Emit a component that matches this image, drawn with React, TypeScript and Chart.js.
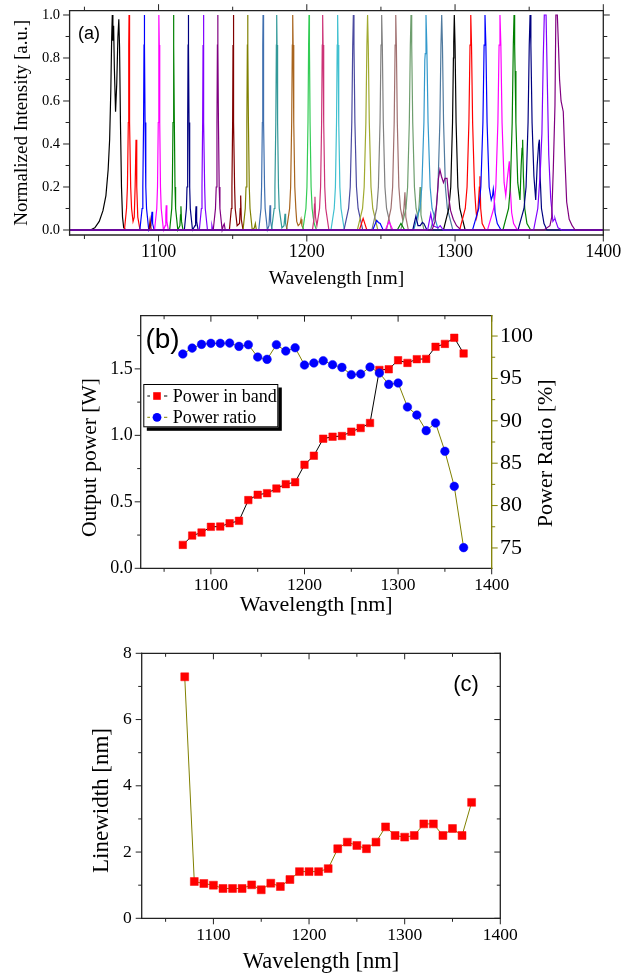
import React, { useEffect, useRef } from 'react';
import { Chart, registerables } from 'chart.js';
Chart.register(...registerables);

const SERIF = '"Liberation Serif", "Times New Roman", serif';
const SANS = '"Liberation Sans", Arial, sans-serif';

// ---------------- Panel (a): normalized spectra [wavelength nm, intensity] ----------------
const S1070 = [[1040,0],[1054,0],[1057,0.01],[1060,0.04],[1062.5,0.09],[1064.5,0.16],[1066,0.28],[1067,0.42],[1067.8,0.65],[1068.4,0.9],[1068.8,1.0],[1069.2,0.88],[1069.7,0.95],[1070.2,0.75],[1071,0.55],[1071.8,0.68],[1072.6,0.9],[1073.2,0.98],[1073.7,0.85],[1074.3,0.5],[1075,0.2],[1075.7,0.06],[1076.5,0.01],[1078,0],[1400,0]];
const S1080 = [[1040,0],[1077,0],[1078.4,0.1],[1079,0.2],[1079.6,0.5],[1079.9,0.86],[1080.1,1],[1080.3,0.86],[1080.6,0.5],[1081.2,0.2],[1081.8,0.1],[1082.8,0.04],[1083.6,0.06],[1084.2,0.2],[1084.8,0.42],[1085.3,0.2],[1086,0.06],[1087.5,0],[1400,0]];
const S1090 = [[1040,0],[1087.4,0],[1088.9,0.1],[1089.4,0.2],[1089.9,0.5],[1090.2,0.86],[1090.4,1],[1090.6,0.86],[1090.9,0.5],[1091.4,0.2],[1091.9,0.1],[1093.4,0],[1094.8,0.02],[1095.3,0.06],[1095.6,0.085],[1096,0.03],[1097,0],[1400,0]];
const S1100 = [[1040,0],[1097.3,0],[1098.8,0.1],[1099.3,0.2],[1099.8,0.5],[1100.1,0.86],[1100.3,1],[1100.5,0.86],[1100.8,0.5],[1101.3,0.2],[1101.8,0.1],[1103.3,0],[1104.5,0.02],[1104.9,0.07],[1105.2,0.115],[1105.6,0.04],[1106.6,0],[1400,0]];
const S1110 = [[1040,0],[1107.5,0],[1108.9,0.1],[1109.3,0.2],[1109.75,0.5],[1110.02,0.86],[1110.2,1],[1110.38,0.86],[1110.65,0.5],[1111.1,0.2],[1111.5,0.1],[1113,0],[1114.4,0.02],[1114.8,0.07],[1115.1,0.11],[1115.5,0.04],[1116.5,0],[1400,0]];
const S1120 = [[1040,0],[1117.4,0],[1118.8,0.1],[1119.2,0.2],[1119.65,0.5],[1119.92,0.86],[1120.1,1],[1120.28,0.86],[1120.55,0.5],[1121,0.2],[1121.4,0.1],[1122.9,0],[1124.6,0.02],[1125,0.07],[1125.3,0.11],[1125.7,0.04],[1126.7,0],[1400,0]];
const S1130 = [[1040,0],[1127.5,0],[1128.9,0.1],[1129.3,0.2],[1129.75,0.5],[1130.02,0.86],[1130.2,1],[1130.38,0.86],[1130.65,0.5],[1131.1,0.2],[1131.5,0.1],[1133,0],[1135.4,0],[1136,0.02],[1136.6,0],[1400,0]];
const S1140 = [[1040,0],[1136.9,0],[1138.4,0.1],[1138.9,0.2],[1139.4,0.5],[1139.7,0.86],[1139.9,1],[1140.1,0.86],[1140.4,0.5],[1140.9,0.2],[1141.4,0.1],[1142.9,0],[1143.7,0.02],[1144.3,0.028],[1145,0],[1400,0]];
const S1150 = [[1040,0],[1093.6,0],[1094.3,0.045],[1095,0],[1147.8,0],[1149.1,0.1],[1149.5,0.2],[1149.97,0.5],[1150.23,0.86],[1150.4,1],[1150.57,0.86],[1150.83,0.5],[1151.3,0.2],[1151.7,0.1],[1153,0.02],[1154.6,0.03],[1155.1,0.1],[1155.4,0.16],[1155.8,0.05],[1157,0],[1400,0]];
const S1160 = [[1040,0],[1157,0],[1158.5,0.1],[1159,0.2],[1159.57,0.5],[1159.9,0.86],[1160.1,1],[1160.3,0.86],[1160.63,0.5],[1161.2,0.2],[1161.7,0.1],[1163.2,0],[1164.6,0.01],[1165.3,0.03],[1166,0],[1400,0]];
const S1170 = [[1040,0],[1167.6,0],[1169.1,0.1],[1169.5,0.2],[1170.02,0.5],[1170.3,0.86],[1170.5,1],[1170.7,0.86],[1170.98,0.5],[1171.5,0.2],[1171.9,0.1],[1173.4,0],[1174.5,0.02],[1174.9,0.07],[1175.2,0.115],[1175.6,0.04],[1176.6,0],[1400,0]];
const S1180 = [[1040,0],[1176.2,0],[1178,0.1],[1178.5,0.2],[1179.1,0.5],[1179.47,0.86],[1179.7,1],[1179.93,0.86],[1180.3,0.5],[1180.9,0.2],[1181.4,0.1],[1183.2,0.01],[1184.6,0.02],[1185,0.05],[1185.3,0.075],[1185.7,0.03],[1186.8,0],[1400,0]];
const S1190 = [[1040,0],[1186.3,0],[1188.4,0.1],[1189.1,0.2],[1189.8,0.5],[1190.22,0.86],[1190.5,1],[1190.78,0.86],[1191.2,0.5],[1191.9,0.2],[1192.6,0.1],[1193.2,0.04],[1194.2,0.02],[1195.5,0.03],[1196.1,0.05],[1196.7,0.02],[1198,0],[1400,0]];
const S1200 = [[1040,0],[1197.3,0],[1199.4,0.1],[1200.1,0.2],[1200.8,0.5],[1201.22,0.86],[1201.5,1],[1201.78,0.86],[1202.2,0.5],[1202.9,0.2],[1203.6,0.1],[1204.3,0.06],[1205,0.03],[1206.5,0],[1400,0]];
const S1210 = [[1040,0],[1203.8,0],[1204.8,0.05],[1205.2,0.12],[1205.5,0.155],[1205.9,0.06],[1206.8,0.02],[1208.6,0.1],[1209.3,0.2],[1210,0.5],[1210.42,0.86],[1210.7,1],[1210.98,0.86],[1211.4,0.5],[1212.1,0.2],[1212.8,0.1],[1214.9,0],[1400,0]];
const S1220 = [[1040,0],[1216.3,0],[1218.5,0.1],[1219.3,0.2],[1220.05,0.5],[1220.5,0.86],[1220.8,1],[1221.1,0.86],[1221.55,0.5],[1222.3,0.2],[1223.1,0.1],[1225.3,0],[1400,0]];
const S1230 = [[1040,0],[1225.1,0],[1228.2,0.1],[1229.3,0.2],[1230.35,0.5],[1230.98,0.86],[1231.4,1],[1231.82,0.86],[1232.45,0.5],[1233.5,0.2],[1234.6,0.1],[1237.7,0],[1400,0]];
const S1240 = [[1040,0],[1234.1,0],[1237.6,0.1],[1238.7,0.2],[1239.85,0.5],[1240.54,0.86],[1241,1],[1241.46,0.86],[1242.15,0.5],[1243.3,0.2],[1244.5,0.1],[1247.9,0],[1400,0]];
const S1250 = [[1040,0],[1243.9,0],[1247.2,0.1],[1248.3,0.2],[1249.4,0.5],[1250.06,0.86],[1250.5,1],[1250.94,0.86],[1251.6,0.5],[1252.7,0.2],[1253.8,0.1],[1257.1,0],[1400,0]];
const S1260 = [[1040,0],[1253.7,0],[1256.8,0.1],[1257.9,0.2],[1258.95,0.5],[1259.58,0.86],[1260,1],[1260.42,0.86],[1261.05,0.5],[1262.1,0.2],[1263.2,0.1],[1264.6,0.05],[1265.5,0.1],[1266.2,0.175],[1266.8,0.06],[1268.5,0],[1400,0]];
const S1270 = [[1040,0],[1263.4,0],[1266.9,0.1],[1268,0.2],[1269.15,0.5],[1269.84,0.86],[1270.3,1],[1270.76,0.86],[1271.45,0.5],[1272.6,0.2],[1273.7,0.1],[1275,0.06],[1275.8,0.12],[1276.4,0.2],[1277,0.07],[1279,0],[1400,0]];
const S1280 = [[1040,0],[1272.1,0],[1276.3,0.1],[1277.6,0.2],[1279,0.5],[1279.6,0.79],[1279.9,0.82],[1280.4,1],[1280.95,0.86],[1281.8,0.5],[1283.2,0.2],[1284.5,0.1],[1288.7,0],[1400,0]];
const S1290 = [[1040,0],[1283.5,0],[1287.3,0.1],[1288.5,0.2],[1289.75,0.5],[1290.5,0.86],[1291,1],[1291.5,0.86],[1292.25,0.5],[1293.5,0.2],[1294.8,0.1],[1298.5,0],[1400,0]];
const S1300 = [[1040,0],[1292.2,0],[1295.8,0.1],[1297.1,0.2],[1298.3,0.5],[1298.9,0.8],[1299.05,0.88],[1299.2,0.87],[1299.5,1],[1300,0.86],[1300.7,0.5],[1301.9,0.2],[1303.2,0.1],[1306.8,0],[1400,0]];
const S1310 = [[1040,0],[1235.5,0],[1238,0.054],[1240.5,0],[1303.1,0],[1306.9,0.1],[1308.1,0.2],[1309.35,0.5],[1310.1,0.86],[1310.6,1],[1311.1,0.86],[1311.85,0.5],[1313.1,0.2],[1314,0.1],[1314.6,0.06],[1315.5,0.1],[1316.4,0.2],[1316.8,0.25],[1317.3,0.1],[1318.3,0.03],[1320.5,0],[1400,0]];
const S1320 = [[1040,0],[1244.5,0],[1247.1,0.045],[1248.3,0.035],[1249.5,0.03],[1251.5,0],[1311.8,0],[1316,0.1],[1317.4,0.2],[1318.8,0.5],[1319.6,0.86],[1320.2,1],[1320.8,0.86],[1321.6,0.5],[1323,0.2],[1324.4,0.14],[1325.3,0.16],[1325.8,0.19],[1326.3,0.16],[1327,0.08],[1328.5,0.03],[1331,0],[1400,0]];
const S1330 = [[1040,0],[1253,0],[1255.5,0.04],[1258,0],[1321.9,0],[1326.1,0.1],[1327.5,0.2],[1328.9,0.5],[1329.7,0.86],[1330.3,1],[1330.9,0.86],[1331.7,0.5],[1333.1,0.22],[1334.2,0.16],[1335.3,0.24],[1336.6,0.32],[1337.2,0.2],[1338.2,0.08],[1339.5,0.03],[1342,0],[1400,0]];
const S1340 = [[1040,0],[1261,0],[1263.5,0.03],[1266,0],[1332.3,0],[1336.1,0.1],[1337.3,0.2],[1338.55,0.5],[1339.3,0.86],[1339.8,1],[1340.2,0.86],[1340.5,0.74],[1341.05,0.5],[1342.3,0.22],[1343.8,0.14],[1344.6,0.3],[1345.2,0.38],[1345.6,0.42],[1346.1,0.25],[1347,0.1],[1348.5,0.03],[1351,0],[1400,0]];
const S1350 = [[1040,0],[1271.5,0],[1273.6,0.065],[1275,0.02],[1276.5,0.02],[1278,0.035],[1279,0.03],[1281,0],[1342.5,0],[1346.5,0.1],[1347.9,0.2],[1349.25,0.5],[1350.05,0.86],[1350.6,1],[1351.15,0.86],[1351.95,0.5],[1353.2,0.25],[1354.4,0.14],[1355.4,0.3],[1356.4,0.4],[1356.9,0.42],[1357.4,0.25],[1358.3,0.1],[1360,0.03],[1362,0],[1400,0]];
const S1360 = [[1040,0],[1281.5,0],[1283.6,0.075],[1285,0.02],[1288.5,0.01],[1290,0.02],[1292,0],[1353,0],[1355.8,0.1],[1357,0.22],[1357.6,0.29],[1358.6,0.45],[1359.5,0.8],[1360.2,1],[1361.4,1],[1362.2,0.7],[1363.2,0.35],[1364.5,0.15],[1366,0.04],[1367,0.05],[1367.4,0.054],[1368,0.04],[1369.5,0.01],[1372,0],[1400,0]];
const S1370 = [[1040,0],[1284.5,0],[1286.5,0.04],[1287.6,0.12],[1288.8,0.24],[1289.8,0.28],[1290.8,0.25],[1292.2,0.22],[1293.2,0.24],[1294.6,0.24],[1295.6,0.16],[1297,0.09],[1298.8,0.05],[1301,0.02],[1304,0],[1360,0],[1364,0.02],[1365.2,0.06],[1366.3,0.29],[1367.4,0.58],[1368,1],[1369,1],[1369.8,0.85],[1370.5,0.7],[1371.5,0.6],[1373,0.55],[1374,0.35],[1375.3,0.13],[1377,0.05],[1379,0.02],[1381,0],[1400,0]];

const SPECTRA = [S1070,S1080,S1090,S1100,S1110,S1120,S1130,S1140,S1150,S1160,S1170,S1180,S1190,S1200,S1210,S1220,S1230,S1240,S1250,S1260,S1270,S1280,S1290,S1300,S1310,S1320,S1330,S1340,S1350,S1360,S1370];
const SPECTRA_LABELS = ['1070','1080','1090','1100','1110','1120','1130','1140','1150','1160','1170','1180','1190','1200','1210','1220','1230','1240','1250','1260','1270','1280','1290','1300','1310','1320','1330','1340','1350','1360','1370'];
const SPECTRA_COLORS = ['#000000','#FF0000','#0000FF','#FF00FF','#008000','#000080','#8000FF','#800080','#800000','#808000','#3F6FAF','#339999','#A8641E','#33CC55','#CC3377','#40C0D0','#4A4AA0','#A0AA30','#808080','#A07070','#6E9E6E','#3399CC','#507A9E','#000000','#FF0000','#0000FF','#FF00FF','#008000','#000080','#8000FF','#800080'];

// ---------------- Panels (b) and (c) ----------------
const WAVELENGTH = [1070,1080,1090,1100,1110,1120,1130,1140,1150,1160,1170,1180,1190,1200,1210,1220,1230,1240,1250,1260,1270,1280,1290,1300,1310,1320,1330,1340,1350,1360,1370];
const POWER_IN_BAND = [0.176,0.246,0.269,0.312,0.314,0.339,0.357,0.513,0.553,0.565,0.600,0.633,0.648,0.779,0.847,0.975,0.990,0.995,1.028,1.055,1.093,1.492,1.497,1.565,1.545,1.573,1.575,1.666,1.688,1.734,1.616];
const POWER_RATIO = [97.88,98.58,99.02,99.14,99.14,99.17,98.78,98.98,97.52,97.25,98.98,98.23,98.62,96.58,96.82,97.09,96.62,96.30,95.44,95.52,96.34,95.64,94.30,94.46,91.63,90.68,88.84,89.74,86.40,82.27,75.04];
const LINEWIDTH = [7.29,1.11,1.05,1.0,0.90,0.90,0.90,1.01,0.86,1.06,0.96,1.17,1.41,1.41,1.41,1.50,2.10,2.30,2.20,2.10,2.30,2.76,2.50,2.45,2.50,2.85,2.85,2.50,2.71,2.50,3.50];

// ---------------- Tick values ----------------
const X_MAJOR = [1100,1200,1300,1400];
const X_MINOR = [1050,1150,1250,1350];
const A_Y_MAJOR = [0,0.2,0.4,0.6,0.8,1.0];
const A_Y_MINOR = [0.1,0.3,0.5,0.7,0.9];
const B_YL_MAJOR = [0,0.5,1.0,1.5];
const B_YL_MINOR = [0.25,0.75,1.25,1.75];
const B_YR_MAJOR = [75,80,85,90,95,100];
const B_YR_MINOR = [77.5,82.5,87.5,92.5,97.5];
const C_Y_MAJOR = [0,2,4,6,8];
const C_Y_MINOR = [1,3,5,7];

const toXY = (xs: number[], ys: number[]) => xs.map((x, i) => ({ x, y: ys[i] }));

// ---------------- Plugins ----------------
const framePlugin = {
  id: 'frame',
  afterDraw(chart: any, _a: any, o: any) {
    if (!o || !o.sides) return;
    const { ctx, chartArea: a } = chart;
    ctx.save();
    ctx.lineCap = 'square';
    for (const s of o.sides) {
      const sc = chart.scales[s.scale];
      ctx.strokeStyle = s.color || '#222';
      ctx.lineWidth = o.lineWidth || 1.3;
      ctx.beginPath();
      if (s.side === 'bottom') { ctx.moveTo(a.left, a.bottom); ctx.lineTo(a.right, a.bottom); }
      if (s.side === 'top') { ctx.moveTo(a.left, a.top); ctx.lineTo(a.right, a.top); }
      if (s.side === 'left') { ctx.moveTo(a.left, a.top); ctx.lineTo(a.left, a.bottom); }
      if (s.side === 'right') { ctx.moveTo(a.right, a.top); ctx.lineTo(a.right, a.bottom); }
      ctx.stroke();
      ctx.lineWidth = 1;
      ctx.lineCap = 'butt';
      const tick = (v: number, len: number) => {
        const p = sc.getPixelForValue(v);
        const d = s.dir * len;
        ctx.beginPath();
        if (s.side === 'bottom') { ctx.moveTo(p, a.bottom); ctx.lineTo(p, a.bottom + d); }
        if (s.side === 'top') { ctx.moveTo(p, a.top); ctx.lineTo(p, a.top - d); }
        if (s.side === 'left') { ctx.moveTo(a.left, p); ctx.lineTo(a.left - d, p); }
        if (s.side === 'right') { ctx.moveTo(a.right, p); ctx.lineTo(a.right + d, p); }
        ctx.stroke();
      };
      s.major.forEach((v: number) => tick(v, o.majorLen || 6));
      s.minor.forEach((v: number) => tick(v, o.minorLen || 3.5));
      ctx.lineCap = 'square';
    }
    ctx.restore();
  },
};

const textPlugin = {
  id: 'texts',
  afterDraw(chart: any, _a: any, o: any) {
    if (!o || !o.items) return;
    const { ctx } = chart;
    for (const t of o.items) {
      ctx.save();
      ctx.font = t.font;
      ctx.fillStyle = t.color || '#000';
      ctx.textAlign = t.align || 'center';
      ctx.textBaseline = 'middle';
      ctx.translate(t.x, t.y);
      if (t.rotate) ctx.rotate(t.rotate);
      ctx.fillText(t.text, 0, 0);
      ctx.restore();
    }
  },
};

const boxLegendPlugin = {
  id: 'boxLegend',
  afterDraw(chart: any, _a: any, o: any) {
    if (!o || !o.display) return;
    const { ctx, chartArea: a } = chart;
    const x = a.left + o.dx, y = a.top + o.dy, w = o.width, h = o.height;
    ctx.save();
    ctx.fillStyle = '#000';
    ctx.fillRect(x + o.shadow, y + o.shadow, w, h);
    ctx.fillStyle = '#fff';
    ctx.fillRect(x, y, w, h);
    ctx.strokeStyle = '#000';
    ctx.lineWidth = 1;
    ctx.strokeRect(x + 0.5, y + 0.5, w - 1, h - 1);
    chart.data.datasets.forEach((ds: any, i: number) => {
      const cy = y + o.rowTop + i * o.rowGap;
      const mx = x + o.markerX;
      ctx.strokeStyle = ds.borderColor;
      ctx.lineWidth = 1;
      ctx.beginPath();
      ctx.moveTo(x + 4, cy); ctx.lineTo(mx - 7, cy);
      ctx.moveTo(mx + 7, cy); ctx.lineTo(x + 24, cy);
      ctx.stroke();
      ctx.fillStyle = ds.pointBackgroundColor;
      if (ds.pointStyle === 'rect') {
        ctx.fillRect(mx - 3.8, cy - 3.8, 7.6, 7.6);
      } else {
        ctx.beginPath(); ctx.arc(mx, cy, 4.4, 0, Math.PI * 2); ctx.fill();
      }
      ctx.fillStyle = '#000';
      ctx.font = o.font;
      ctx.textAlign = 'left';
      ctx.textBaseline = 'middle';
      ctx.fillText(ds.label, x + o.textX, cy + 1);
    });
    ctx.restore();
  },
};

Chart.register(framePlugin as any, textPlugin as any, boxLegendPlugin as any);

const fixX = (h: number) => (s: any) => { s.height = h; s.paddingLeft = 0; s.paddingRight = 0; };
const fixY = (w: number) => (s: any) => { s.width = w; s.paddingTop = 0; s.paddingBottom = 0; };
const setTicks = (vals: number[]) => (s: any) => { s.ticks = vals.map((v) => ({ value: v })); };
const noGrid = { display: false, drawTicks: false };

function configA(): any {
  return {
    type: 'line',
    data: {
      datasets: SPECTRA.map((arr, i) => ({
        label: SPECTRA_LABELS[i],
        data: arr.map(([x, y]) => ({ x, y })),
        borderColor: SPECTRA_COLORS[i],
        borderWidth: 1.2,
        pointRadius: 0,
        tension: 0,
        order: -i,
      })),
    },
    options: {
      responsive: false,
      devicePixelRatio: 1,
      animation: false,
      events: [],
      layout: { padding: { top: 10.7, left: 0, right: 30.7, bottom: 0 } },
      scales: {
        x: {
          type: 'linear', min: 1040, max: 1400,
          afterFit: fixX(57), afterBuildTicks: setTicks(X_MAJOR),
          grid: noGrid, border: { display: false },
          ticks: { padding: 6.9, color: '#000', font: { family: SERIF, size: 18 }, callback: (v: number) => String(v), autoSkip: false, maxRotation: 0 },
          title: { display: true, text: 'Wavelength [nm]', color: '#000', font: { family: SERIF, size: 19.5 }, padding: { top: 0, bottom: 1.3 } },
        },
        y: {
          type: 'linear', min: -0.0233, max: 1.02,
          afterFit: fixY(69.6), afterBuildTicks: setTicks(A_Y_MAJOR),
          grid: noGrid, border: { display: false },
          ticks: { padding: 9.6, color: '#000', font: { family: SERIF, size: 14.5 }, callback: (v: number) => v.toFixed(1), autoSkip: false },
          title: { display: true, text: 'Normalized Intensity [a.u.]', color: '#000', font: { family: SERIF, size: 19 }, padding: { top: 11, bottom: 0 } },
        },
      },
      plugins: {
        legend: { display: false },
        tooltip: { enabled: false },
        frame: {
          majorLen: 6.5, minorLen: 4,
          sides: [
            { side: 'bottom', scale: 'x', major: X_MAJOR, minor: X_MINOR, dir: 1 },
            { side: 'top', scale: 'x', major: X_MAJOR, minor: X_MINOR, dir: 1 },
            { side: 'left', scale: 'y', major: A_Y_MAJOR, minor: A_Y_MINOR, dir: 1 },
            { side: 'right', scale: 'y', major: A_Y_MAJOR, minor: A_Y_MINOR, dir: 1 },
          ],
        },
        texts: { items: [{ text: '(a)', x: 89, y: 34, font: `18px ${SANS}` }] },
      },
    },
  };
}

function configB(): any {
  return {
    type: 'line',
    data: {
      datasets: [
        {
          label: 'Power in band', data: toXY(WAVELENGTH, POWER_IN_BAND), yAxisID: 'y',
          borderColor: '#000000', borderWidth: 1, pointStyle: 'rect', pointRadius: 5.3,
          pointBackgroundColor: '#FF0000', pointBorderColor: '#FF0000', pointBorderWidth: 0.5, order: 2,
        },
        {
          label: 'Power ratio', data: toXY(WAVELENGTH, POWER_RATIO), yAxisID: 'y1',
          borderColor: '#808000', borderWidth: 1, pointStyle: 'circle', pointRadius: 4.3,
          pointBackgroundColor: '#0000FF', pointBorderColor: '#0000FF', pointBorderWidth: 0.5, order: 1,
        },
      ],
    },
    options: {
      responsive: false,
      devicePixelRatio: 1,
      animation: false,
      events: [],
      layout: { padding: { top: 20.7, left: 0, right: 0, bottom: 0 } },
      scales: {
        x: {
          type: 'linear', min: 1025, max: 1400,
          afterFit: fixX(56.7), afterBuildTicks: setTicks(X_MAJOR),
          grid: noGrid, border: { display: false },
          ticks: { padding: 6.5, color: '#000', font: { family: SERIF, size: 17.5 }, callback: (v: number) => String(v), autoSkip: false, maxRotation: 0 },
          title: { display: true, text: 'Wavelength [nm]', color: '#000', font: { family: SERIF, size: 22 }, padding: { top: 0, bottom: 7 } },
        },
        y: {
          type: 'linear', position: 'left', min: 0, max: 1.9,
          afterFit: fixY(140.7), afterBuildTicks: setTicks(B_YL_MAJOR),
          grid: noGrid, border: { display: false },
          ticks: { padding: 8, color: '#000', font: { family: SERIF, size: 18 }, callback: (v: number) => v.toFixed(1), autoSkip: false },
        },
        y1: {
          type: 'linear', position: 'right', min: 72.6, max: 102.4,
          afterFit: fixY(142.3), afterBuildTicks: setTicks(B_YR_MAJOR),
          grid: noGrid, border: { display: false },
          ticks: { padding: 8.3, color: '#000', font: { family: SERIF, size: 22 }, callback: (v: number) => String(v), autoSkip: false },
        },
      },
      plugins: {
        legend: { display: false },
        tooltip: { enabled: false },
        frame: {
          majorLen: 6, minorLen: 3.5,
          sides: [
            { side: 'bottom', scale: 'x', major: X_MAJOR, minor: X_MINOR, dir: 1 },
            { side: 'top', scale: 'x', major: X_MAJOR, minor: X_MINOR, dir: -1 },
            { side: 'left', scale: 'y', major: B_YL_MAJOR, minor: B_YL_MINOR, dir: 1 },
            { side: 'right', scale: 'y1', major: B_YR_MAJOR, minor: B_YR_MINOR, dir: 1, color: '#808000' },
          ],
        },
        boxLegend: {
          display: true, dx: 2.6, dy: 68.3, width: 135, height: 43.3, shadow: 3.5,
          rowTop: 12, rowGap: 21.3, markerX: 13.7, textX: 29.4, font: `18px ${SERIF}`,
        },
        texts: {
          items: [
            { text: '(b)', x: 162.5, y: 45.5, font: `28px ${SANS}` },
            { text: 'Output power [W]', x: 90, y: 162.5, font: `21.5px ${SERIF}`, rotate: -Math.PI / 2 },
            { text: 'Power Ratio [%]', x: 546, y: 158.3, font: `22px ${SERIF}`, rotate: -Math.PI / 2 },
          ],
        },
      },
    },
  };
}

function configC(): any {
  return {
    type: 'line',
    data: {
      datasets: [
        {
          label: 'Linewidth', data: toXY(WAVELENGTH, LINEWIDTH),
          borderColor: '#808000', borderWidth: 1, pointStyle: 'rect', pointRadius: 5.6,
          pointBackgroundColor: '#FF0000', pointBorderColor: '#FF0000', pointBorderWidth: 0.5,
        },
      ],
    },
    options: {
      responsive: false,
      devicePixelRatio: 1,
      animation: false,
      events: [],
      layout: { padding: { top: 23.3, left: 0, right: 133.7, bottom: 0 } },
      scales: {
        x: {
          type: 'linear', min: 1025, max: 1400,
          afterFit: fixX(57.7), afterBuildTicks: setTicks(X_MAJOR),
          grid: noGrid, border: { display: false },
          ticks: { padding: 6.5, color: '#000', font: { family: SERIF, size: 17.5 }, callback: (v: number) => String(v), autoSkip: false, maxRotation: 0 },
          title: { display: true, text: 'Wavelength [nm]', color: '#000', font: { family: SERIF, size: 22.5 }, padding: { top: 0, bottom: 0 } },
        },
        y: {
          type: 'linear', min: 0, max: 8,
          afterFit: fixY(141.7), afterBuildTicks: setTicks(C_Y_MAJOR),
          grid: noGrid, border: { display: false },
          ticks: { padding: 10, color: '#000', font: { family: SERIF, size: 17.5 }, callback: (v: number) => String(v), autoSkip: false },
        },
      },
      plugins: {
        legend: { display: false },
        tooltip: { enabled: false },
        frame: {
          majorLen: 6, minorLen: 3.5,
          sides: [
            { side: 'bottom', scale: 'x', major: X_MAJOR, minor: X_MINOR, dir: 1 },
            { side: 'top', scale: 'x', major: X_MAJOR, minor: X_MINOR, dir: -1 },
            { side: 'left', scale: 'y', major: C_Y_MAJOR, minor: C_Y_MINOR, dir: 1 },
            { side: 'right', scale: 'y', major: C_Y_MAJOR, minor: C_Y_MINOR, dir: -1 },
          ],
        },
        texts: {
          items: [
            { text: '(c)', x: 466, y: 55, font: `22px ${SANS}` },
            { text: 'Linewidth [nm]', x: 102, y: 170.5, font: `23px ${SERIF}`, rotate: -Math.PI / 2 },
          ],
        },
      },
    },
  };
}

function Panel({ top, height, make }: { top: number; height: number; make: () => any }) {
  const ref = useRef<HTMLCanvasElement | null>(null);
  useEffect(() => {
    if (!ref.current) return;
    const chart = new Chart(ref.current, make());
    return () => chart.destroy();
  }, [make]);
  return (
    <canvas
      ref={ref}
      width={634}
      height={height}
      style={{ position: 'absolute', left: 0, top, width: 634, height, display: 'block' }}
    />
  );
}

export default function App() {
  return (
    <div style={{ position: 'absolute', left: 0, top: 0, width: 634, height: 976, background: '#ffffff', overflow: 'hidden' }}>
      <Panel top={0} height={292} make={configA} />
      <Panel top={295} height={330} make={configB} />
      <Panel top={630} height={346} make={configC} />
    </div>
  );
}
